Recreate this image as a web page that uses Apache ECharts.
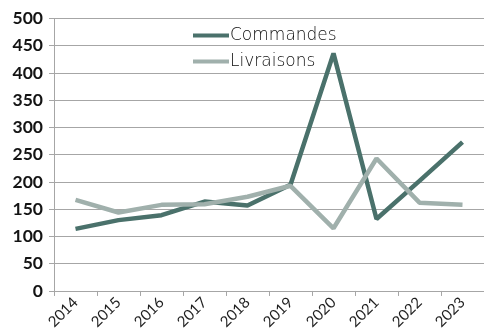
<!DOCTYPE html>
<html>
<head>
<meta charset="utf-8">
<style>
  html, body { margin: 0; padding: 0; background: #fff; }
  #chart { width: 484px; height: 332px; }
</style>
<script src="https://cdn.jsdelivr.net/npm/echarts@6/dist/echarts.min.js"></script>
</head>
<body>
<div id="chart"></div>
<script>
// Yearly orders vs deliveries
const years = ['2014', '2015', '2016', '2017', '2018', '2019', '2020', '2021', '2022', '2023'];
const commandes = [114, 130, 139, 164, 157, 195, 436, 132, 202, 273];
const livraisons = [167, 144, 158, 159, 173, 193, 115, 243, 162, 158];
const yTicks = [0, 50, 100, 150, 200, 250, 300, 350, 400, 450, 500];

const thinFont = "'DejaVu Sans ExtraLight', 'DejaVu Sans', sans-serif";

const chart = echarts.init(document.getElementById('chart'));
chart.setOption({
  animation: false,
  grid: { left: 54, right: 0, top: 18.5, bottom: 37, containLabel: false },
  legend: {
    orient: 'vertical',
    left: 188,
    top: 22,
    itemWidth: 36,
    itemHeight: 12,
    itemGap: 9,
    icon: 'path://M0,5 L36,5 L36,9 L0,9 Z',
    textStyle: { fontSize: 17, fontFamily: thinFont, fontWeight: 200, color: '#0d0d0d', padding: [0, 0, 0, -4] },
    data: ['Commandes', 'Livraisons']
  },
  xAxis: {
    type: 'category',
    data: years,
    boundaryGap: true,
    axisLine: { lineStyle: { color: '#a6a6a6', width: 1 } },
    axisTick: { show: true, length: 5, lineStyle: { color: '#a6a6a6' } },
    axisLabel: { rotate: 45, fontSize: 15, fontFamily: 'Lato', color: '#1f1f1f', margin: 9 }
  },
  yAxis: {
    type: 'value',
    min: yTicks[0],
    max: yTicks[yTicks.length - 1],
    interval: 50,
    axisLine: { show: true, lineStyle: { color: '#a6a6a6', width: 1 } },
    axisTick: { show: true, length: 5, lineStyle: { color: '#a6a6a6' } },
    splitLine: { lineStyle: { color: '#a6a6a6', width: 1 } },
    axisLabel: { fontSize: 17.5, fontFamily: 'Lato', fontWeight: 'bold', color: '#141414', margin: 11 }
  },
  series: [
    {
      name: 'Commandes',
      type: 'line',
      data: commandes,
      showSymbol: false,
      symbol: 'none',
      lineStyle: { color: '#4a716b', width: 4.5 },
      itemStyle: { color: '#4a716b' }
    },
    {
      name: 'Livraisons',
      type: 'line',
      data: livraisons,
      showSymbol: false,
      symbol: 'none',
      lineStyle: { color: '#a0b0ac', width: 4.5 },
      itemStyle: { color: '#a0b0ac' }
    }
  ]
});
</script>
</body>
</html>
